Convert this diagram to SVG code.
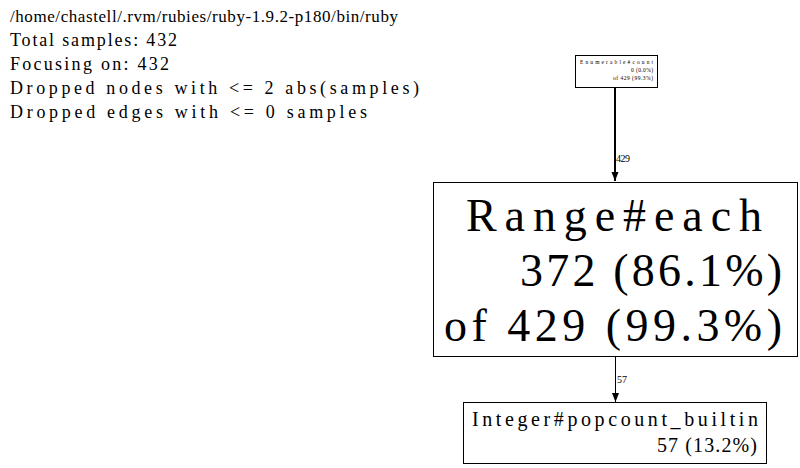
<svg xmlns="http://www.w3.org/2000/svg" width="800" height="468" viewBox="0 0 800 468" font-family="Liberation Serif, DejaVu Serif, serif">
<style>
text{fill:#000}
.hdr{font-size:18px}
.box{fill:#fff;stroke:#000;stroke-width:1}
.edge{stroke:#000;fill:none}
.lbl{font-size:10px}
</style>
<defs>
<marker id="ah" markerWidth="10" markerHeight="10" refX="9" refY="5" orient="auto" markerUnits="userSpaceOnUse">
<path d="M0,1.5 L9,5 L0,8.5 Z" fill="#000"/>
</marker>
</defs>
<rect width="800" height="468" fill="#fff"/>
<g id="header">
<text class="hdr" x="10" y="22" font-size="17" style="font-size:17px" textLength="388" lengthAdjust="spacing">/home/chastell/.rvm/rubies/ruby-1.9.2-p180/bin/ruby</text>
<text class="hdr" x="10" y="46" textLength="167" lengthAdjust="spacing">Total samples: 432</text>
<text class="hdr" x="10" y="70" textLength="159" lengthAdjust="spacing">Focusing on: 432</text>
<text class="hdr" x="10" y="94" textLength="409" lengthAdjust="spacing">Dropped nodes with &lt;= 2 abs(samples)</text>
<text class="hdr" x="10" y="118" textLength="357" lengthAdjust="spacing">Dropped edges with &lt;= 0 samples</text>
</g>
<g id="edges">
<g id="e1"><line class="edge" x1="615" y1="88" x2="615" y2="181" stroke-width="2" marker-end="url(#ah)"/><text class="lbl" x="616" y="162" textLength="14" lengthAdjust="spacing">429</text></g>
<g id="e2"><line class="edge" x1="615.5" y1="357" x2="615.5" y2="402" stroke-width="1" marker-end="url(#ah)"/><text class="lbl" x="617" y="383" textLength="10" lengthAdjust="spacing">57</text></g>
</g>
<g id="n1">
<rect class="box" x="575.5" y="55.5" width="82" height="32"/>
<text x="580" y="64" font-size="5.5" textLength="73" lengthAdjust="spacing">Enumerable#count</text>
<text x="653" y="72" font-size="5.5" text-anchor="end" textLength="22" lengthAdjust="spacing">0 (0.0%)</text>
<text x="653" y="80" font-size="5.5" text-anchor="end" textLength="40" lengthAdjust="spacing">of 429 (99.3%)</text>
</g>
<g id="n2">
<rect class="box" x="433.5" y="182.5" width="364" height="174"/>
<text x="466" y="231" font-size="46" textLength="296" lengthAdjust="spacing">Range#each</text>
<text x="782" y="286" font-size="46" text-anchor="end" textLength="262" lengthAdjust="spacing">372 (86.1%)</text>
<text x="782" y="341" font-size="46" text-anchor="end" textLength="338" lengthAdjust="spacing">of 429 (99.3%)</text>
</g>
<g id="n3">
<rect class="box" x="463.5" y="402.5" width="303" height="61"/>
<text x="472" y="426" font-size="20" textLength="286" lengthAdjust="spacing">Integer#popcount_builtin</text>
<text x="757" y="452" font-size="20" text-anchor="end" textLength="100" lengthAdjust="spacing">57 (13.2%)</text>
</g>
</svg>
